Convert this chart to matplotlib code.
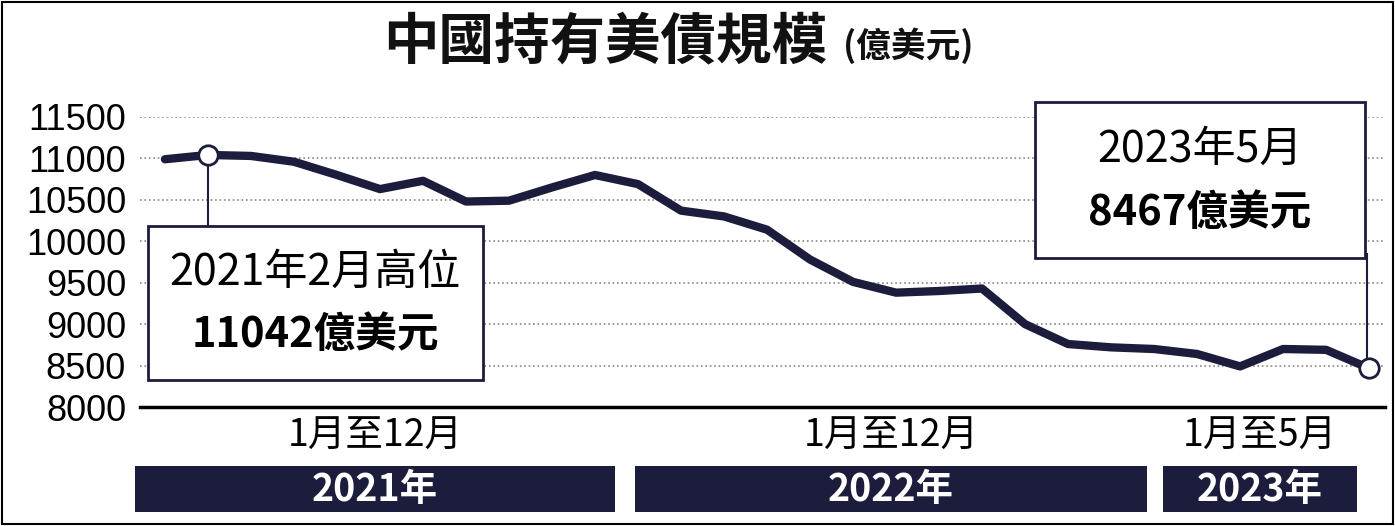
import matplotlib.pyplot as plt
from matplotlib.patches import Rectangle

plt.rcParams['font.family'] = ['Noto Sans CJK TC', 'DejaVu Sans']

# 2021年1月 .. 2023年5月, 億美元
months = list(range(29))
holdings = [10990, 11042, 11030, 10960, 10800, 10630, 10730, 10480, 10490, 10650,
            10800, 10690, 10370, 10300, 10140, 9780, 9510, 9380, 9400, 9430,
            9000, 8760, 8720, 8700, 8640, 8490, 8700, 8690, 8467]
yticks = [8000, 8500, 9000, 9500, 10000, 10500, 11000, 11500]
years = ['2021年', '2022年', '2023年']
ranges = ['1月至12月', '1月至12月', '1月至5月']

W, H = 1395, 526
fig = plt.figure(figsize=(W / 100, H / 100), dpi=100)
ax = fig.add_axes([140 / W, 1 - 407 / H, (1385 - 140) / W, (407 - 117) / H])

ax.plot(months, holdings, color='#1c1c3c', lw=6, solid_capstyle='round', zorder=3)
for i in (1, 28):
    ax.plot(months[i], holdings[i], 'o', ms=14, mfc='white', mec='#1c1c3c', mew=2, zorder=4)

ax.set_xlim(-0.58, 28.37)
ax.set_ylim(8000, 11500)
ax.set_yticks(yticks)
ax.set_yticklabels([str(v) for v in yticks], fontsize=26, family='Liberation Sans')
ax.set_xticks([])
ax.tick_params(axis='y', length=0, pad=10)
for s in ('top', 'right', 'left'):
    ax.spines[s].set_visible(False)
ax.spines['bottom'].set_linewidth(2.5)
ax.grid(axis='y', ls=':', color='#888888', lw=1.2)
ax.set_axisbelow(True)
ax.patch.set_alpha(0)

def fx(px):
    return px / W

def fy(py):
    return 1 - py / H

# title
fig.text(fx(383), fy(42), '中國持有美債規模', fontsize=40, fontweight='bold', va='center', ha='left', color='#111111')
fig.text(fx(843), fy(46), '(億美元)', fontsize=25, fontweight='bold', va='center', ha='left', color='#111111')

# connector lines
ax.plot([months[1], months[1]], [holdings[1], 10050], color='#1c1c3c', lw=1.5, zorder=2)
ax.plot([27.95, 27.95], [holdings[28] + 60, 9850], color='#1c1c3c', lw=1.5, zorder=2)

# annotation boxes
for x0, y0, x1, y1 in [(148, 226, 483, 380), (1035, 102, 1365, 258)]:
    fig.patches.append(Rectangle((fx(x0), fy(y1)), fx(x1 - x0), (y1 - y0) / H, transform=fig.transFigure,
                                 fc='white', ec='#1c1c3c', lw=2, zorder=5))
fig.text(fx(315), fy(273), '2021年2月高位', fontsize=31, ha='center', va='center', zorder=6)
fig.text(fx(315), fy(335), '11042億美元', fontsize=30, fontweight='bold', ha='center', va='center', zorder=6)
fig.text(fx(1200), fy(150), '2023年5月', fontsize=31, ha='center', va='center', zorder=6)
fig.text(fx(1200), fy(213), '8467億美元', fontsize=30, fontweight='bold', ha='center', va='center', zorder=6)

# year banners
for (x0, x1), yr, rg in zip([(135, 615), (635, 1147), (1163, 1357)], years, ranges):
    fig.patches.append(Rectangle((fx(x0), fy(512)), fx(x1 - x0), 46 / H, transform=fig.transFigure,
                                 fc='#1c1c3c', ec='none'))
    fig.text(fx((x0 + x1) / 2), fy(489), yr, fontsize=27, fontweight='bold', color='white', ha='center', va='center')
    fig.text(fx((x0 + x1) / 2), fy(436), rg, fontsize=27, ha='center', va='center')

# outer border
fig.patches.append(Rectangle((2 / W, 2 / H), 1 - 4 / W, 1 - 4 / H, transform=fig.transFigure,
                             fc='none', ec='black', lw=1.5))

fig.savefig('out.png', dpi=100)
